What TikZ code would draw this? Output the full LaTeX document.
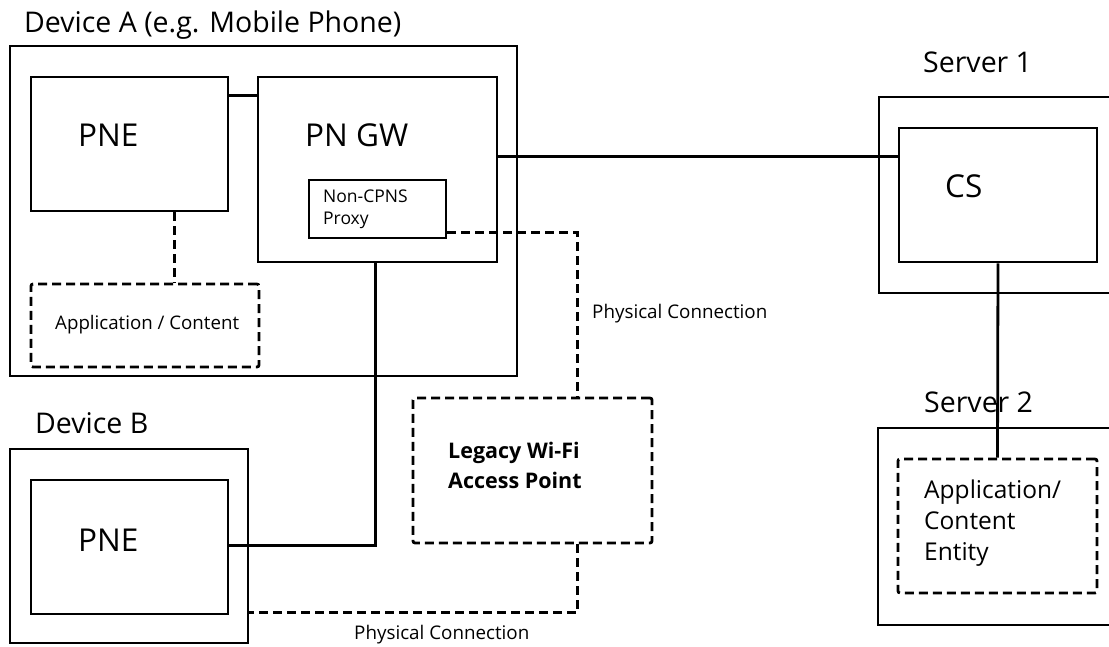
\documentclass[tikz,border=0pt]{standalone}
\usepackage{fontspec}
\setmainfont{Open Sans}
\usetikzlibrary{calc}

\tikzset{
  box/.style={draw, line width=2.8pt, inner sep=0pt},
  dbox/.style={box, dash pattern=on 9pt off 5pt, rounded corners=2pt},
  link/.style={line width=2.8pt},
  dlink/.style={link, dash pattern=on 9pt off 5pt},
  lbl/.style={anchor=base west, inner sep=0pt},
  mlbl/.style={anchor=west, inner sep=0pt, align=left},
  titlefont/.style={font=\fontsize{28.5}{28.5}\selectfont},
  bigfont/.style={font=\fontsize{31.5}{31.5}\selectfont},
  smallfont/.style={font=\fontsize{18.8}{18.8}\selectfont}
}

\begin{document}
\begin{tikzpicture}[x=1pt, y=-1pt]
  \useasboundingbox (0,0) rectangle (1109,647);
  \clip (0,0) rectangle (1109,647);

  % Device A
  \node[lbl, titlefont] (devAtitle) at (24,33) {Device A (e.g. Mobile Phone)};
  \node[box, minimum width=507, minimum height=330] (devA) at (263.5,211) {};
  \node[box, minimum width=197, minimum height=134] (pneA) at (129.5,144) {};
  \node[lbl, bigfont] (pneAtext) at (78,147) {PNE};
  \node[box, minimum width=239, minimum height=185] (pngw) at (377.5,169.5) {};
  \node[lbl, bigfont] (pngwtext) at (305,147) {PN GW};
  \node[box, minimum width=137, minimum height=58] (proxy) at (377.5,209) {};
  \node[mlbl, font=\fontsize{17.5}{22}\selectfont] (proxytext) at (323,209) {Non-CPNS\\Proxy};
  \node[dbox, minimum width=228, minimum height=83] (appA) at (145,325.5) {};
  \node[lbl, font=\fontsize{18.7}{18.7}\selectfont] (appAtext) at (55,330) {Application / Content};

  % Device B
  \node[lbl, titlefont] (devBtitle) at (35,433) {Device B};
  \node[box, minimum width=238, minimum height=194] (devB) at (129,546) {};
  \node[box, minimum width=197, minimum height=134] (pneB) at (129.5,547) {};
  \node[lbl, bigfont] (pneBtext) at (78,551) {PNE};

  % Legacy access point
  \node[dbox, minimum width=239, minimum height=145] (wifi) at (532.5,470.5) {};
  \node[mlbl, font=\bfseries\fontsize{21.5}{30}\selectfont] (wifitext) at (448,465) {Legacy Wi-Fi\\Access Point};

  % Server 1
  \node[lbl, titlefont] (srv1title) at (923,73) {Server 1};
  \node[box, minimum width=241, minimum height=196] (srv1) at (999.5,195) {};
  \node[box, minimum width=198, minimum height=134] (cs) at (998,195) {};
  \node[lbl, bigfont] (cstext) at (945,198) {CS};

  % Server 2
  \node[lbl, titlefont] (srv2title) at (924,412) {Server 2};
  \node[box, minimum width=242, minimum height=197] (srv2) at (999,526.5) {};
  \node[dbox, minimum width=199, minimum height=134] (appS) at (997.5,526) {};
  \node[mlbl, font=\fontsize{24.5}{31}\selectfont] (appStext) at (924,523) {Application/\\Content\\Entity};

  % Connections
  \draw[link] ($(pneA.north east)+(0,20)$) -- ($(pngw.north west)+(0,20)$);
  \draw[dlink] ($(pneA.south west)+(145,0)$) -- ($(appA.north west)+(145,0)$);
  \draw[link] ($(pngw.north east)+(0,81)$) -- ($(cs.north west)+(0,30)$);
  \draw[link] ($(pngw.south west)+(119,0)$) |- ($(pneB.north east)+(0,67)$);
  \draw[link] (cs.south) -- (appS.north);
  \draw[dlink] ($(proxy.south east)+(0,-7)$) -| ($(wifi.north west)+(166,0)$);
  \draw[dlink] ($(wifi.south west)+(166,0)$) |- ($(devB.north east)+(0,165)$);

  % Link labels
  \node[lbl, smallfont] (phys1) at (592,318) {Physical Connection};
  \node[lbl, smallfont] (phys2) at (354,639) {Physical Connection};
\end{tikzpicture}
\end{document}
